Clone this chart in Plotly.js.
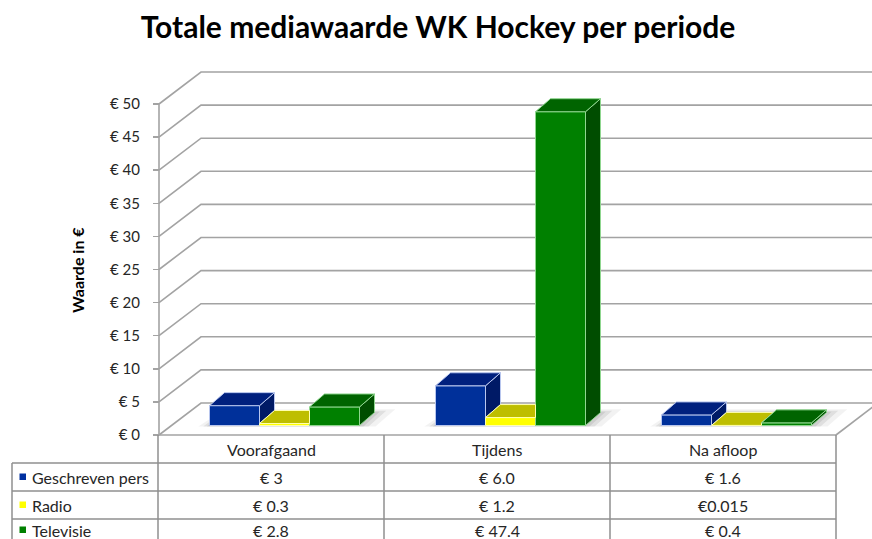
<!DOCTYPE html>
<html>
<head>
<meta charset="utf-8">
<script src="https://cdn.plot.ly/plotly-3.0.1.min.js"></script>
<style>html,body{margin:0;padding:0;background:#fff;}#chart{width:872px;height:539px;}</style>
</head>
<body>
<div id="chart"></div>
<script>
// ---------------- data ----------------
const categories = ["Voorafgaand", "Tijdens", "Na afloop"];
const seriesNames = ["Geschreven pers", "Radio", "Televisie"];
const geschrevenPers = [3, 6.0, 1.6];
const radio = [0.3, 1.2, 0.015];
const televisie = [2.8, 47.4, 0.4];
const geschrevenPersLabels = ["€ 3", "€ 6.0", "€ 1.6"];
const radioLabels = ["€ 0.3", "€ 1.2", "€0.015"];
const televisieLabels = ["€ 2.8", "€ 47.4", "€ 0.4"];
const yTickVals = [0, 5, 10, 15, 20, 25, 30, 35, 40, 45, 50];
const yTickText = ["€ 0", "€ 5", "€ 10", "€ 15", "€ 20", "€ 25", "€ 30", "€ 35", "€ 40", "€ 45", "€ 50"];

// ---------------- styling / geometry ----------------
const W = 872, H = 539;
const FONT = "Lato, 'Open Sans', sans-serif";
const COL_PX = 226, COL0_PX = 271;          // category slot width and first centre
const ZERO_PX = 435, PPU = 6.62;            // y pixel of value 0 (front) and px per unit
const pxX = p => (p - COL0_PX) / COL_PX;
const pxY = p => (ZERO_PX - p) / PPU;
const dX = p => p / COL_PX;
const dY = p => p / PPU;
const paperX = p => p / W;
const paperY = p => 1 - p / H;

const seriesValues = [geschrevenPers, radio, televisie];
const seriesLabels = [geschrevenPersLabels, radioLabels, televisieLabels];
const frontCol = ["#00309a", "#ffff00", "#008000"];
const sideCol = ["#001a66", "#a8a800", "#004d00"];
const topCol = ["#00207e", "#bebe00", "#006400"];
const edgeCol = ["#b8c6ee", "#ffffb0", "#8fd68f"];
const legendCol = ["#0030a0", "#ffff00", "#008000"];

const BAR_W = dX(50);
const BAR_SHIFT = dX(13.5);
const BASE = dY(9.5);
const BDX = dX(15), BDY = dY(13);
const BACK_DX = dX(42), BACK_DY = dY(32);

const traces = [];
const nS = seriesValues.length;
const offsetOf = s => BAR_SHIFT - (nS / 2) * BAR_W + s * BAR_W;
seriesValues.forEach((vals, s) => {
  traces.push({
    type: "bar", x: categories.map((c, i) => i), y: vals, base: BASE,
    width: BAR_W, offset: offsetOf(s), name: seriesNames[s],
    marker: { color: frontCol[s], line: { color: edgeCol[s], width: 1 } },
    hoverinfo: "skip", showlegend: false
  });
});
// 3D side and top faces, computed from the values
seriesValues.forEach((vals, s) => {
  const sx = [], sy = [], tx = [], ty = [];
  vals.forEach((v, i) => {
    const xL = i + offsetOf(s), xR = xL + BAR_W;
    const vn = s < nS - 1 ? seriesValues[s + 1][i] : 0;
    if (v > vn) {
      sx.push(xR, xR + BDX, xR + BDX, xR, xR, null);
      sy.push(BASE + vn, BASE + vn + BDY, BASE + v + BDY, BASE + v, BASE + vn, null);
    }
    if (vn > v) {
      const k = (vn - v) / BDY;
      tx.push(xL, xL + BDX, xR + BDX * Math.max(0, 1 - k), xR, xR, xL, null);
      ty.push(BASE + v, BASE + v + BDY, BASE + v + BDY, BASE + v + Math.min(k, 1) * BDY, BASE + v, BASE + v, null);
    } else {
      tx.push(xL, xL + BDX, xR + BDX, xR, xL, null);
      ty.push(BASE + v, BASE + v + BDY, BASE + v + BDY, BASE + v, BASE + v, null);
    }
  });
  traces.push({ type: "scatter", mode: "lines", x: sx, y: sy, fill: "toself", fillcolor: sideCol[s],
    line: { color: edgeCol[s], width: 1 }, hoverinfo: "skip", showlegend: false });
  traces.push({ type: "scatter", mode: "lines", x: tx, y: ty, fill: "toself", fillcolor: topCol[s],
    line: { color: edgeCol[s], width: 1 }, hoverinfo: "skip", showlegend: false });
});

// ---------------- shapes: walls, floor, axis, shadows, table ----------------
const shapes = [];
const GRID = { color: "#a3a3a3", width: 1.6 };
const AXIS_X = pxX(159);
const X_END = pxX(W + 60);
yTickVals.forEach(v => {
  shapes.push({ type: "path", xref: "x", yref: "y", layer: "below",
    path: `M ${AXIS_X},${v} L ${AXIS_X + BACK_DX},${v + BACK_DY} L ${X_END},${v + BACK_DY}`,
    line: GRID });
});
shapes.push({ type: "line", xref: "x", yref: "y", x0: AXIS_X, x1: AXIS_X, y0: 0, y1: yTickVals[yTickVals.length - 1], line: GRID, layer: "below" });
const FLOOR_R = pxX(836);
shapes.push({ type: "line", xref: "x", yref: "y", x0: pxX(158), x1: FLOOR_R, y0: 0, y1: 0, line: GRID, layer: "below" });
shapes.push({ type: "line", xref: "x", yref: "y", x0: FLOOR_R, x1: FLOOR_R + BACK_DX, y0: 0, y1: BACK_DY, line: GRID, layer: "below" });

// soft floor shadows under each group of bars
categories.forEach((c, i) => {
  const gl = i + offsetOf(0), gr = i + offsetOf(nS - 1) + BAR_W;
  [[16, 0.05], [9, 0.08], [4, 0.08]].forEach(([e, a]) => {
    shapes.push({ type: "path", xref: "x", yref: "y", layer: "below", line: { width: 0 },
      fillcolor: `rgba(0,0,0,${a})`,
      path: `M ${gl - dX(e * 0.7)},${BASE - dY(1)} L ${gl + BDX},${BASE + BDY + dY(e * 0.2)} ` +
            `L ${gr + BDX + dX(e * 1.3)},${BASE + BDY + dY(e * 0.2)} L ${gr + dX(e)},${BASE - dY(1)} Z` });
  });
});

// table
const TBL = { color: "#8f8f8f", width: 1.5 };
const tLeft = 12, tRight = 836, tTop = 435;
const colEdges = [158, 384, 610, 836];
const rowEdges = [463, 491, 519];
rowEdges.forEach(yp => shapes.push({ type: "line", xref: "paper", yref: "paper",
  x0: paperX(tLeft), x1: paperX(tRight), y0: paperY(yp), y1: paperY(yp), line: TBL }));
shapes.push({ type: "line", xref: "paper", yref: "paper", x0: paperX(tLeft), x1: paperX(tLeft),
  y0: paperY(rowEdges[0]), y1: paperY(H + 5), line: TBL });
colEdges.forEach(xp => shapes.push({ type: "line", xref: "paper", yref: "paper",
  x0: paperX(xp), x1: paperX(xp), y0: paperY(tTop), y1: paperY(H + 5), line: TBL }));

const annotations = [];
const TXT = { family: FONT, size: 16, color: "#262626" };
const rowCentres = [477, 505, 530];
categories.forEach((c, i) => {
  const cx = (colEdges[i] + colEdges[i + 1]) / 2;
  annotations.push({ xref: "paper", yref: "paper", x: paperX(cx), y: paperY(449), text: c,
    showarrow: false, xanchor: "center", yanchor: "middle", font: TXT });
  seriesLabels.forEach((labs, s) => {
    annotations.push({ xref: "paper", yref: "paper", x: paperX(cx), y: paperY(rowCentres[s]), text: labs[i],
      showarrow: false, xanchor: "center", yanchor: "middle", font: TXT });
  });
});
seriesNames.forEach((n, s) => {
  const cy = rowCentres[s];
  shapes.push({ type: "rect", xref: "paper", yref: "paper", x0: paperX(19.5), x1: paperX(26),
    y0: paperY(cy - 3.5), y1: paperY(cy + 3), fillcolor: legendCol[s], line: { width: 0 } });
  annotations.push({ xref: "paper", yref: "paper", x: paperX(30), y: paperY(cy), text: n,
    showarrow: false, xanchor: "left", yanchor: "middle", font: TXT });
});
annotations.push({ xref: "paper", yref: "paper", x: paperX(77), y: paperY(270), text: "Waarde in €",
  textangle: -90, showarrow: false, xanchor: "center", yanchor: "middle",
  font: { family: FONT, size: 16, color: "#000", weight: 700 } });

const layout = {
  width: W, height: H,
  margin: { l: 0, r: 0, t: 0, b: 0 },
  paper_bgcolor: "#fff", plot_bgcolor: "#fff",
  barmode: "overlay",
  showlegend: false,
  title: { text: "Totale mediawaarde WK Hockey per periode", x: 0.5023, xanchor: "center",
    yref: "container", y: paperY(27), yanchor: "middle",
    font: { family: FONT, size: 30, color: "#000", weight: 700 } },
  xaxis: { range: [pxX(0), pxX(W)], visible: false, fixedrange: true },
  yaxis: { range: [pxY(H), pxY(0)], anchor: "free", position: paperX(159),
    tickvals: yTickVals, ticktext: yTickText, ticks: "outside", ticklen: 6, tickcolor: "#a3a3a3",
    tickwidth: 1.5, ticklabelstandoff: 10,
    showgrid: false, zeroline: false, showline: false, fixedrange: true,
    tickfont: { family: FONT, size: 15, color: "#262626" } },
  shapes: shapes,
  annotations: annotations
};

Plotly.newPlot("chart", traces, layout, { staticPlot: true, displayModeBar: false });
</script>
</body>
</html>
